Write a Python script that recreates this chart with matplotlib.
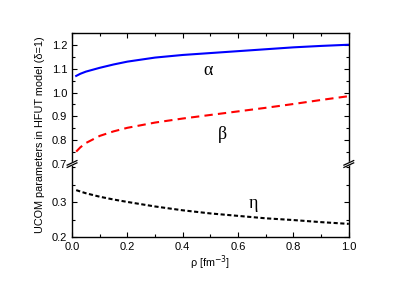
import matplotlib
matplotlib.use("Agg")
import matplotlib.pyplot as plt
from matplotlib.ticker import MultipleLocator
from matplotlib.lines import Line2D
from matplotlib.patches import Polygon

plt.rcParams['font.family'] = ['Liberation Sans', 'DejaVu Sans']

# values
rho = [0.015, 0.03, 0.05, 0.1, 0.15, 0.2, 0.3, 0.4, 0.5, 0.6, 0.7, 0.8, 0.9, 1.0]
alpha = [1.070, 1.079, 1.088, 1.104, 1.118, 1.130, 1.147, 1.158, 1.166, 1.174, 1.182, 1.190, 1.196, 1.201]
beta = [0.752, 0.770, 0.788, 0.818, 0.837, 0.852, 0.874, 0.891, 0.906, 0.921, 0.936, 0.952, 0.969, 0.985]
eta = [0.335, 0.331, 0.326, 0.316, 0.308, 0.301, 0.288, 0.277, 0.268, 0.261, 0.254, 0.249, 0.243, 0.238]

x_ticks = [0.0, 0.2, 0.4, 0.6, 0.8, 1.0]
top_ticks = [0.7, 0.8, 0.9, 1.0, 1.1, 1.2]
bot_ticks = [0.2, 0.3]

fig = plt.figure(figsize=(4.07, 2.85), dpi=100)
L, R, B, T, BRK = 0.177, 0.857, 0.168, 0.884, 0.4246
ax1 = fig.add_axes([L, BRK, R - L, T - BRK])
ax2 = fig.add_axes([L, B, R - L, BRK - B])

ax1.plot(rho, alpha, color='#0000ff', lw=1.5)
ax1.plot(rho, beta, color='#ff0000', lw=1.5, ls=(0, (4, 2.5)))
ax2.plot(rho, eta, color='black', lw=1.5, ls=(0, (2, 1.2)))

ax1.set_ylim(0.7, 1.25)
ax2.set_ylim(0.2, 0.41)
for ax in (ax1, ax2):
    ax.set_xlim(0, 1.0)
    ax.xaxis.set_major_locator(MultipleLocator(0.2))
    ax.xaxis.set_minor_locator(MultipleLocator(0.1))
    ax.yaxis.set_minor_locator(MultipleLocator(0.05))
    ax.tick_params(which='both', direction='in', right=True, labelsize=8, width=0.8)
    ax.tick_params(which='major', length=3.5)
    ax.tick_params(which='minor', length=2)
    for s in ax.spines.values():
        s.set_linewidth(1.0)

ax1.set_yticks(top_ticks)
ax1.set_yticklabels([f"{v:.1f}" for v in top_ticks])
ax1.spines['bottom'].set_visible(False)
ax1.tick_params(which='both', bottom=False, labelbottom=False, top=True)

ax2.set_yticks(bot_ticks)
ax2.set_yticklabels([f"{v:.1f}" for v in bot_ticks])
ax2.spines['top'].set_visible(False)
ax2.set_xticks(x_ticks)
ax2.set_xticklabels([f"{v:.1f}" for v in x_ticks])
ax2.tick_params(which='both', top=False)

greek = dict(fontsize=13, ha='center', va='center', family='Liberation Serif')
ax1.text(0.49, 1.094, 'α', **greek)
ax1.text(0.545, 0.825, 'β', **greek)
ax2.text(0.655, 0.297, 'η', **greek)

ax2.set_xlabel(r'ρ [fm$^{-3}$]', fontsize=7.8, labelpad=1)
fig.text(0.098, (B + T) / 2, 'UCOM parameters in HFUT model (δ=1)', rotation=90,
         fontsize=7.8, ha='center', va='center')

# axis break marks on both spines
dx, dy, gap = 0.012, 0.012, 0.008
for xs in (L, R):
    poly = Polygon([(xs - dx, BRK - dy), (xs + dx, BRK - dy + 2 * dy - gap),
                    (xs + dx, BRK + dy), (xs - dx, BRK - dy + gap)],
                   closed=True, transform=fig.transFigure, color='white', zorder=10)
    fig.add_artist(poly)
    for off in (0, gap):
        fig.add_artist(Line2D([xs - dx, xs + dx], [BRK - dy + off, BRK + dy - gap + off],
                              transform=fig.transFigure, color='black', lw=0.9, zorder=11))

fig.savefig('out.png', dpi=100)
